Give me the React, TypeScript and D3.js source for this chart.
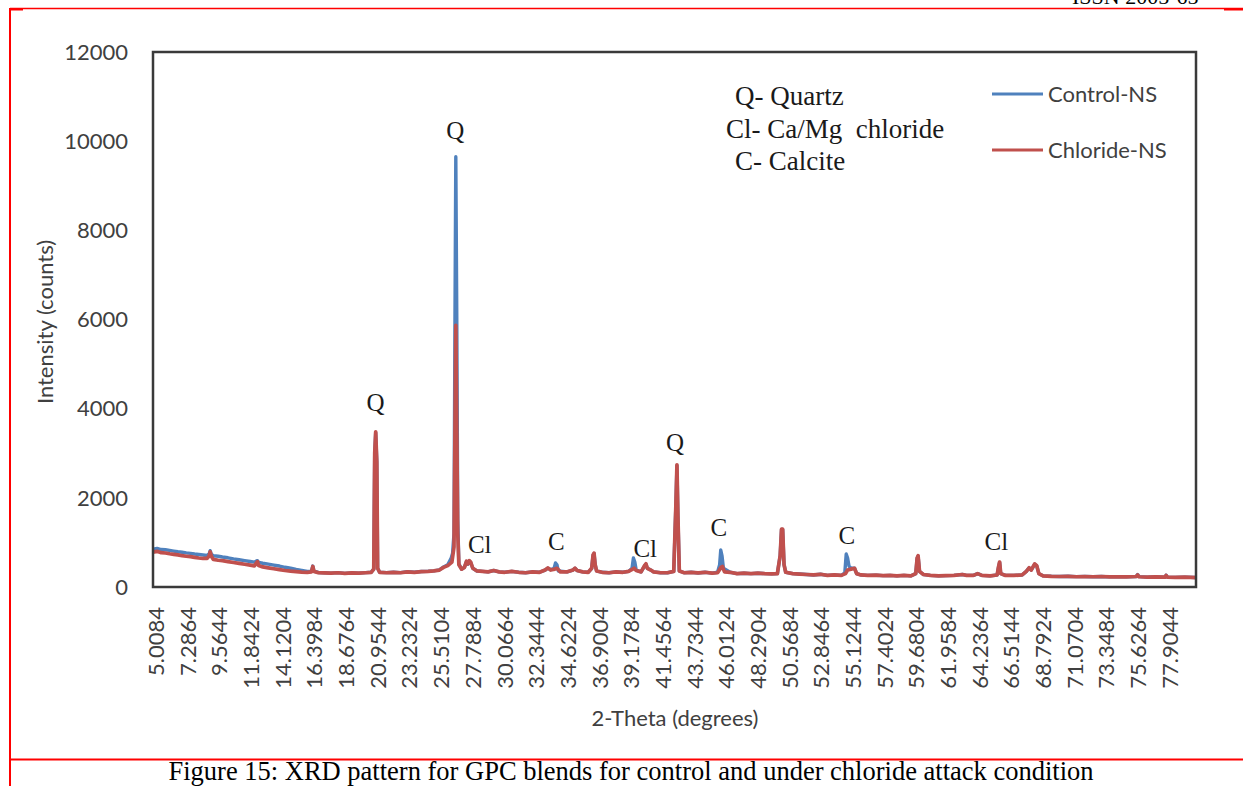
import React from "react";
import * as d3 from "d3";

// ---- data ----
const yTicks = [0, 2000, 4000, 6000, 8000, 10000, 12000];
const xTickLabels = [
  "5.0084", "7.2864", "9.5644", "11.8424", "14.1204", "16.3984", "18.6764", "20.9544",
  "23.2324", "25.5104", "27.7884", "30.0664", "32.3444", "34.6224", "36.9004", "39.1784",
  "41.4564", "43.7344", "46.0124", "48.2904", "50.5684", "52.8464", "55.1244", "57.4024",
  "59.6804", "61.9584", "64.2364", "66.5144", "68.7924", "71.0704", "73.3484", "75.6264", "77.9044",
];
const seriesNames = ["Control-NS", "Chloride-NS"];
const seriesColors = ["#4F81BD", "#C0504D"];
const legendNotes = ["Q- Quartz", "Cl- Ca/Mg  chloride", "C- Calcite"];
const peakLabels = ["Q", "Q", "Cl", "C", "Cl", "Q", "C", "C", "Cl"];
const peakLabelTheta = [21.0, 26.75, 28.5, 34.0, 40.4, 42.55, 45.7, 54.9, 65.65];
const peakLabelCounts = [3950, 10050, 760, 830, 680, 3040, 1150, 960, 830];

// Control-NS: [2-theta, counts]
const controlData: [number, number][] = [
  [5.01, 850], [5.3, 865], [5.6, 840], [5.9, 835], [6.2, 820], [6.5, 805], [6.8, 790], [7.1, 780],
  [7.4, 765], [7.7, 755], [8.0, 740], [8.3, 728], [8.6, 718], [8.9, 708], [9.05, 745], [9.12, 815],
  [9.2, 735], [9.35, 700], [9.7, 690], [10.0, 672], [10.4, 655], [10.8, 632], [11.2, 612], [11.6, 592],
  [12.0, 572], [12.3, 558], [12.45, 585], [12.52, 592], [12.6, 552], [12.9, 532], [13.3, 512],
  [13.7, 492], [14.1, 470], [14.5, 442], [14.9, 420], [15.3, 392], [15.7, 372], [16.1, 348],
  [16.4, 352], [16.5, 470], [16.58, 356], [16.9, 326], [17.3, 318], [17.8, 312], [18.3, 322],
  [18.8, 306], [19.3, 316], [19.8, 312], [20.3, 322], [20.7, 332], [20.88, 400], [20.95, 3000],
  [21.02, 3460], [21.1, 2800], [21.16, 420], [21.3, 332], [21.8, 322], [22.3, 332], [22.8, 322],
  [23.3, 342], [23.8, 332], [24.3, 347], [24.8, 352], [25.2, 362], [25.6, 385], [25.9, 450],
  [26.2, 500], [26.45, 650], [26.55, 760], [26.65, 1200], [26.72, 6000], [26.78, 9650],
  [26.85, 6000], [26.92, 1500], [27.0, 520], [27.2, 400], [27.4, 440], [27.55, 570], [27.65, 510],
  [27.75, 580], [27.85, 550], [28.0, 420], [28.3, 360], [28.7, 350], [29.1, 340], [29.5, 370],
  [29.9, 340], [30.3, 330], [30.8, 350], [31.3, 330], [31.8, 320], [32.3, 340], [32.8, 330],
  [33.2, 380], [33.4, 420], [33.6, 390], [33.85, 420], [33.95, 540], [34.05, 500], [34.15, 360],
  [34.8, 340], [35.2, 380], [35.35, 420], [35.5, 370], [35.9, 340], [36.3, 330], [36.55, 420],
  [36.65, 710], [36.72, 750], [36.8, 500], [36.9, 360], [37.3, 330], [37.8, 320], [38.3, 340],
  [38.8, 330], [39.2, 350], [39.45, 420], [39.55, 650], [39.65, 560], [39.75, 380], [40.1, 340],
  [40.35, 470], [40.45, 510], [40.55, 420], [40.8, 380], [41.0, 340], [41.5, 320], [42.0, 320],
  [42.45, 350], [42.6, 1800], [42.68, 2720], [42.75, 1600], [42.85, 360], [43.2, 320], [43.7, 330],
  [44.2, 315], [44.7, 330], [45.2, 310], [45.6, 330], [45.75, 500], [45.83, 830], [45.92, 700],
  [46.02, 420], [46.5, 330], [47.0, 300], [47.5, 310], [48.0, 300], [48.5, 310], [49.0, 300],
  [49.5, 295], [49.9, 300], [50.1, 700], [50.2, 1290], [50.28, 1290], [50.38, 500], [50.5, 330],
  [51.0, 300], [51.5, 290], [52.0, 280], [52.5, 270], [53.0, 285], [53.5, 260], [54.0, 270],
  [54.5, 260], [54.75, 320], [54.85, 740], [54.95, 650], [55.05, 470], [55.2, 420], [55.45, 420],
  [55.6, 300], [55.9, 270], [56.4, 260], [57.0, 265], [57.5, 255], [58.0, 260], [58.5, 250],
  [59.0, 260], [59.5, 250], [59.85, 300], [59.95, 640], [60.02, 690], [60.12, 350], [60.4, 280],
  [60.9, 260], [61.5, 250], [62.0, 255], [62.6, 260], [63.2, 280], [63.5, 260], [64.0, 260],
  [64.3, 300], [64.6, 260], [65.2, 250], [65.7, 270], [65.8, 440], [65.88, 550], [65.96, 300],
  [66.3, 260], [66.9, 260], [67.5, 270], [67.8, 350], [68.0, 430], [68.15, 380], [68.4, 510],
  [68.55, 470], [68.7, 300], [69.0, 250], [69.6, 240], [70.2, 235], [70.8, 240], [71.4, 232],
  [72.0, 236], [72.6, 230], [73.2, 236], [73.8, 226], [74.4, 232], [75.0, 226], [75.7, 236],
  [75.8, 280], [75.9, 232], [76.5, 222], [77.1, 226], [77.8, 222], [77.85, 265], [77.95, 222],
  [78.5, 216], [79.2, 222], [80.0, 212],
];

// Chloride-NS: [2-theta, counts]
const chlorideData: [number, number][] = [
  [5.01, 780], [5.3, 800], [5.6, 770], [5.9, 762], [6.2, 745], [6.5, 732], [6.8, 720], [7.1, 702],
  [7.4, 690], [7.7, 680], [8.0, 665], [8.3, 650], [8.6, 640], [8.9, 640], [9.05, 700], [9.12, 790],
  [9.2, 690], [9.35, 620], [9.7, 600], [10.0, 590], [10.4, 570], [10.8, 550], [11.2, 530],
  [11.6, 510], [12.0, 490], [12.3, 475], [12.45, 540], [12.52, 570], [12.6, 480], [12.9, 450],
  [13.3, 430], [13.7, 410], [14.1, 390], [14.5, 370], [14.9, 355], [15.3, 345], [15.7, 335],
  [16.1, 330], [16.4, 340], [16.5, 460], [16.58, 350], [16.9, 320], [17.3, 315], [17.8, 310],
  [18.3, 320], [18.8, 305], [19.3, 315], [19.8, 310], [20.3, 320], [20.7, 330], [20.88, 400],
  [20.95, 3000], [21.02, 3480], [21.1, 2800], [21.16, 420], [21.3, 330], [21.8, 320], [22.3, 330],
  [22.8, 320], [23.3, 340], [23.8, 330], [24.3, 345], [24.8, 350], [25.2, 360], [25.6, 380],
  [25.9, 440], [26.2, 480], [26.5, 560], [26.65, 900], [26.72, 3500], [26.78, 5870], [26.85, 3500],
  [26.92, 1200], [27.0, 500], [27.2, 400], [27.4, 440], [27.55, 580], [27.65, 520], [27.75, 590],
  [27.85, 560], [28.0, 420], [28.3, 360], [28.7, 350], [29.1, 340], [29.5, 370], [29.9, 340],
  [30.3, 330], [30.8, 350], [31.3, 330], [31.8, 320], [32.3, 340], [32.8, 330], [33.2, 380],
  [33.4, 430], [33.6, 380], [33.9, 400], [34.05, 420], [34.3, 340], [34.8, 340], [35.2, 380],
  [35.35, 420], [35.5, 370], [35.9, 340], [36.3, 330], [36.55, 420], [36.65, 720], [36.72, 760],
  [36.8, 500], [36.9, 360], [37.3, 330], [37.8, 320], [38.3, 340], [38.8, 330], [39.2, 350],
  [39.5, 400], [39.6, 420], [39.75, 370], [40.1, 340], [40.35, 480], [40.45, 520], [40.55, 420],
  [40.8, 380], [41.0, 340], [41.5, 320], [42.0, 320], [42.45, 350], [42.6, 1800], [42.68, 2740],
  [42.75, 1600], [42.85, 360], [43.2, 320], [43.7, 330], [44.2, 315], [44.7, 330], [45.2, 310],
  [45.6, 320], [45.85, 440], [45.95, 460], [46.1, 340], [46.5, 330], [47.0, 300], [47.5, 310],
  [48.0, 300], [48.5, 310], [49.0, 300], [49.5, 295], [49.9, 300], [50.1, 700], [50.2, 1300],
  [50.28, 1300], [50.38, 500], [50.5, 330], [51.0, 300], [51.5, 290], [52.0, 280], [52.5, 270],
  [53.0, 285], [53.5, 260], [54.0, 270], [54.5, 260], [54.8, 300], [54.95, 380], [55.2, 400],
  [55.45, 420], [55.6, 300], [55.9, 270], [56.4, 260], [57.0, 265], [57.5, 255], [58.0, 260],
  [58.5, 250], [59.0, 260], [59.5, 250], [59.85, 300], [59.95, 650], [60.02, 700], [60.12, 350],
  [60.4, 280], [60.9, 260], [61.5, 250], [62.0, 255], [62.6, 260], [63.2, 280], [63.5, 260],
  [64.0, 260], [64.3, 300], [64.6, 260], [65.2, 250], [65.7, 270], [65.8, 450], [65.88, 560],
  [65.96, 300], [66.3, 260], [66.9, 260], [67.5, 270], [67.8, 350], [68.0, 430], [68.15, 380],
  [68.4, 520], [68.55, 480], [68.7, 300], [69.0, 250], [69.6, 240], [70.2, 235], [70.8, 240],
  [71.4, 230], [72.0, 235], [72.6, 230], [73.2, 235], [73.8, 225], [74.4, 230], [75.0, 225],
  [75.7, 235], [75.8, 270], [75.9, 230], [76.5, 220], [77.1, 225], [77.8, 220], [77.85, 260],
  [77.95, 220], [78.5, 215], [79.2, 220], [80.0, 210],
];

const W = 1243;
const H = 786;
const M = { left: 153, top: 52, right: 1196, bottom: 587 };
const SANS = "Lato, 'Open Sans', sans-serif";
const SERIF = "'Liberation Serif', 'Times New Roman', serif";
const TXT = "#404040";

export default function App() {
  const x = d3.scaleLinear().domain([5.0084, 80]).range([M.left, M.right]);
  const y = d3.scaleLinear().domain([0, 12000]).range([M.bottom, M.top]);
  const line = d3
    .line<[number, number]>()
    .x((d) => x(d[0]))
    .y((d) => y(d[1]));

  return (
    <svg
      width={W}
      height={H}
      viewBox={`0 0 ${W} ${H}`}
      style={{ position: "absolute", left: 0, top: 0, background: "#fff" }}
    >
      <rect x={0} y={0} width={W} height={H} fill="#fff" />
      {/* page frame */}
      <line x1={10} x2={W} y1={8.5} y2={8.5} stroke="#f00" strokeWidth={1.5} />
      <line x1={10} x2={23} y1={9.5} y2={9.5} stroke="#f00" strokeWidth={2} />
      <line x1={1224} x2={W} y1={9.5} y2={9.5} stroke="#f00" strokeWidth={2} />
      <line x1={10} x2={10} y1={8} y2={H} stroke="#f00" strokeWidth={2} />
      <line x1={10} x2={W} y1={759.5} y2={759.5} stroke="#f00" strokeWidth={2} />
      <text x={1072} y={4} fontFamily={SERIF} fontSize={22} fill="#000">
        ISSN 2005-65
      </text>

      <defs>
        <clipPath id="plotclip">
          <rect x={M.left} y={M.top - 2} width={M.right - M.left} height={M.bottom - M.top + 2} />
        </clipPath>
      </defs>

      {/* series */}
      <g clipPath="url(#plotclip)" fill="none" strokeLinejoin="round">
        <path d={line(controlData) || ""} stroke={seriesColors[0]} strokeWidth={3.4} />
        <path d={line(chlorideData) || ""} stroke={seriesColors[1]} strokeWidth={3.7} />
      </g>

      {/* plot frame */}
      <rect
        x={M.left}
        y={M.top}
        width={M.right - M.left}
        height={M.bottom - M.top}
        fill="none"
        stroke="#3a3a3a"
        strokeWidth={2.5}
      />

      {/* y ticks */}
      {yTicks.map((t) => (
        <text
          key={t}
          x={128}
          y={y(t)}
          dy="0.35em"
          textAnchor="end"
          fontFamily={SANS}
          fontSize={22}
          fill={TXT}
        >
          {t}
        </text>
      ))}

      {/* x ticks */}
      {xTickLabels.map((s) => (
        <text
          key={s}
          transform={`translate(${x(+s) + 11},607) rotate(-90)`}
          textAnchor="end"
          fontFamily={SANS}
          fontSize={22}
          fill={TXT}
        >
          {s}
        </text>
      ))}

      {/* axis titles */}
      <text x={675} y={718} dy="0.35em" textAnchor="middle" fontFamily={SANS} fontSize={22} fill={TXT}>
        2-Theta (degrees)
      </text>
      <text
        transform="translate(45,322) rotate(-90)"
        dy="0.35em"
        textAnchor="middle"
        fontFamily={SANS}
        fontSize={22}
        fill={TXT}
      >
        Intensity (counts)
      </text>

      {/* legend */}
      {seriesNames.map((n, i) => (
        <g key={n}>
          <line x1={992} x2={1043} y1={94 + i * 56} y2={94 + i * 56} stroke={seriesColors[i]} strokeWidth={3} />
          <text x={1048} y={94 + i * 56} dy="0.35em" fontFamily={SANS} fontSize={22} fill={TXT}>
            {n}
          </text>
        </g>
      ))}

      {/* phase key */}
      {legendNotes.map((n, i) => (
        <text
          key={n}
          x={i === 1 ? 726 : 735}
          y={105 + i * 32.5}
          fontFamily={SERIF}
          fontSize={27}
          fill="#1a1a1a"
          style={{ whiteSpace: "pre" }}
        >
          {n}
        </text>
      ))}

      {/* peak labels */}
      {peakLabels.map((p, i) => (
        <text
          key={i}
          x={x(peakLabelTheta[i])}
          y={y(peakLabelCounts[i])}
          textAnchor="middle"
          fontFamily={SERIF}
          fontSize={25}
          fill="#1a1a1a"
        >
          {p}
        </text>
      ))}

      {/* caption */}
      <text x={631} y={780} textAnchor="middle" fontFamily={SERIF} fontSize={26.5} fill="#000">
        Figure 15: XRD pattern for GPC blends for control and under chloride attack condition
      </text>
    </svg>
  );
}
